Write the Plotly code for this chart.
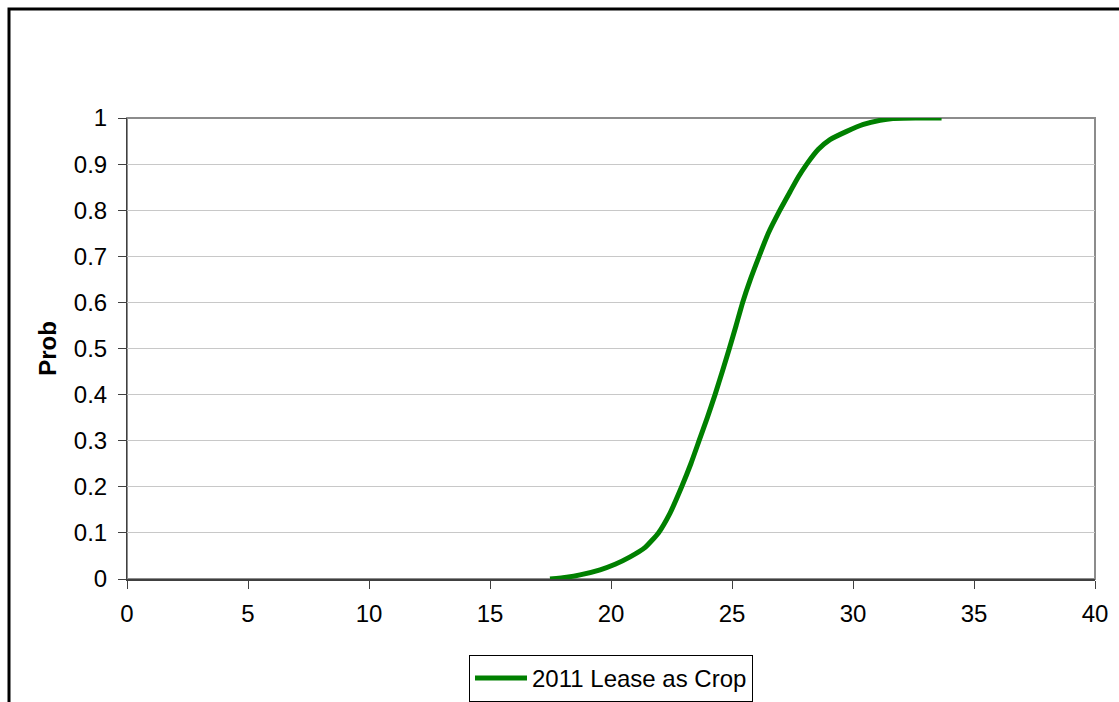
import plotly.graph_objects as go

# Data (cumulative probability curve)
lease_value = [17.48, 18.17, 18.72, 19.55, 20.17, 20.79, 21.4, 21.96, 22.44, 22.92,
               23.3, 23.64, 23.98, 24.3, 24.6, 24.89, 25.17, 25.44, 25.76, 26.12,
               26.5, 26.98, 27.4, 27.74, 28.09, 28.57, 29.05, 29.74, 30.43, 31.12,
               31.65, 32.6, 33.66]
prob = [0.0, 0.004, 0.009, 0.02, 0.032, 0.048, 0.068, 0.1, 0.143, 0.2,
        0.25, 0.3, 0.35, 0.4, 0.45, 0.5, 0.55, 0.6, 0.65, 0.7,
        0.75, 0.8, 0.84, 0.872, 0.9, 0.932, 0.953, 0.971, 0.986, 0.995,
        0.999, 1.0, 1.0]
series_name = "2011 Lease as Crop"
x_ticks = [0, 5, 10, 15, 20, 25, 30, 35, 40]
y_ticks = [0, 0.1, 0.2, 0.3, 0.4, 0.5, 0.6, 0.7, 0.8, 0.9, 1]
y_tick_text = ["0", "0.1", "0.2", "0.3", "0.4", "0.5", "0.6", "0.7", "0.8", "0.9", "1"]

W, H = 1119, 702
L, R, T, B = 127, 24, 118, 123
pw = W - L - R
ph = H - T - B

def px_to_paper_x(px):
    return (px - L) / pw

def px_to_paper_y(py):
    return (H - B - py) / ph

FONT = "Liberation Sans, Arial, sans-serif"
FS = 24

fig = go.Figure()
fig.add_trace(go.Scatter(
    x=lease_value, y=prob, mode="lines", name=series_name,
    line=dict(color="#008000", width=5, shape="spline", smoothing=0.5),
    showlegend=True,
))

fig.update_layout(
    width=W, height=H,
    margin=dict(l=L, r=R, t=T, b=B, pad=0, autoexpand=False),
    paper_bgcolor="white", plot_bgcolor="white",
    font=dict(family=FONT, size=FS, color="black"),
    showlegend=True,
    legend=dict(
        x=0.5, xanchor="center", xref="paper",
        y=(H - 655) / H, yanchor="top", yref="container",
        orientation="h", bordercolor="black", borderwidth=1, bgcolor="white",
        font=dict(family=FONT, size=FS, color="black"),
        itemwidth=52,
    ),
    xaxis=dict(
        range=[0, 40], tickvals=x_ticks, ticktext=[str(v) for v in x_ticks],
        showgrid=False, zeroline=False,
        showline=True, linecolor="#404040", linewidth=2,
        ticks="outside", ticklen=8, tickcolor="#404040", tickwidth=1,
        ticklabelstandoff=4,
        tickfont=dict(family=FONT, size=FS, color="black"),
    ),
    yaxis=dict(
        range=[0, 1], tickvals=y_ticks, ticktext=y_tick_text,
        showgrid=True, gridcolor="#c8c8c8", gridwidth=1, zeroline=False,
        showline=True, linecolor="#404040", linewidth=1,
        ticks="outside", ticklen=8, tickcolor="#404040", tickwidth=1,
        ticklabelstandoff=6,
        tickfont=dict(family=FONT, size=FS, color="black"),
        title=dict(text="<b>Prob</b>", font=dict(family=FONT, size=FS, color="black"),
                   standoff=10),
    ),
    shapes=[
        # plot-area frame (top and right sides appear gray)
        dict(type="rect", xref="paper", yref="paper", x0=0, y0=0, x1=1, y1=1,
             line=dict(color="#8c8c8c", width=2), layer="below"),
        # outer chart border (cropped at right and bottom)
        dict(type="rect", xref="paper", yref="paper",
             x0=px_to_paper_x(9), y0=px_to_paper_y(740),
             x1=px_to_paper_x(1160), y1=px_to_paper_y(9),
             line=dict(color="black", width=3), layer="below"),
    ],
)

fig.write_html("out.html")
